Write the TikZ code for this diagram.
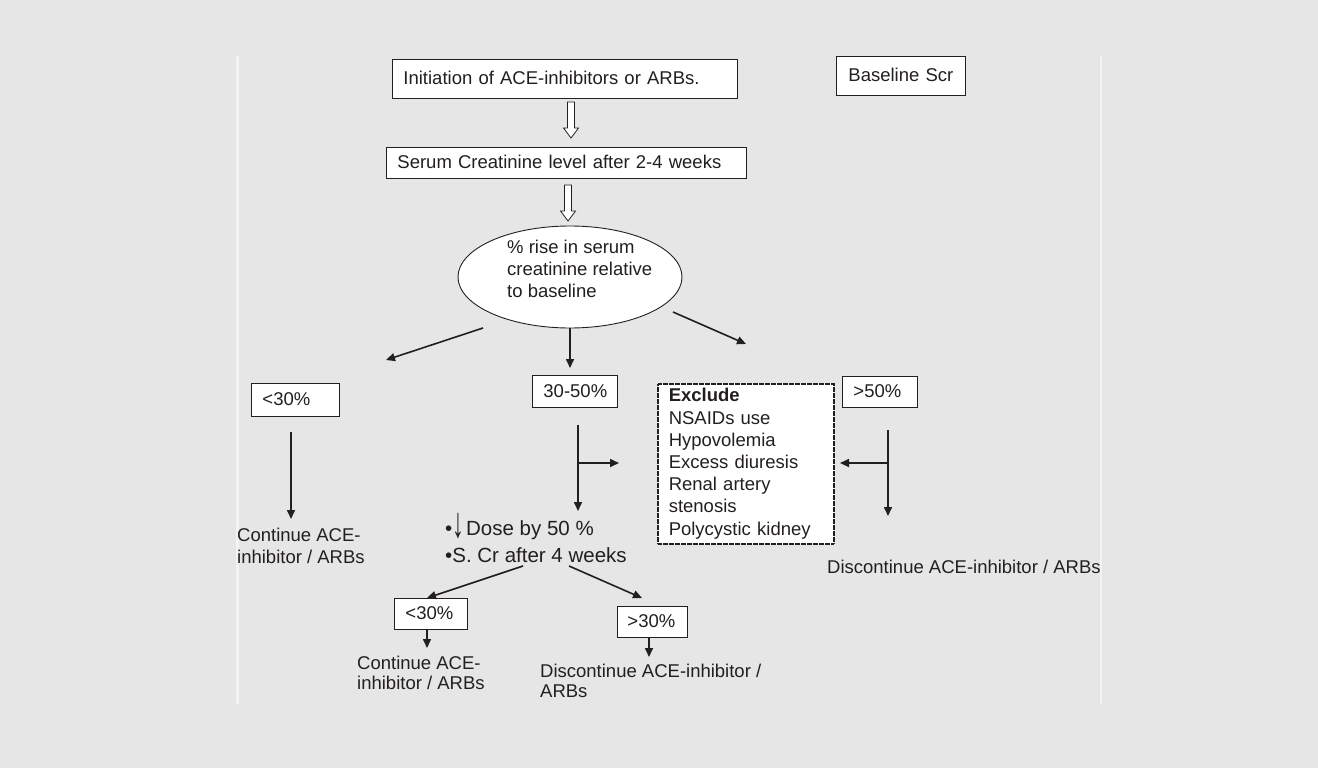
\documentclass[tikz,border=0pt]{standalone}
\usepackage{graphicx}
\usepackage{fontspec}
\setmainfont{Liberation Sans}
\usetikzlibrary{shapes.geometric, arrows.meta, calc}

\definecolor{bg}{HTML}{E6E6E6}
\definecolor{railcol}{HTML}{F3F3F3}
\definecolor{ink}{HTML}{231F20}

% left-aligned stack of lines whose baseline is the first line
\newcommand{\stacked}[1]{\begin{tabular}[t]{@{}l@{}}#1\end{tabular}}

\begin{document}
\begin{tikzpicture}[x=1pt, y=-1pt,
  font=\fontsize{18.5}{22.2}\selectfont,
  every node/.style={text=ink},
  plainbox/.style={draw=ink, line width=0.9pt, fill=white, anchor=north west,
    inner xsep=11pt, inner ysep=0pt, align=left},
  box/.style={plainbox, text height=14pt, text depth=2pt},
  dotbox/.style={plainbox, dash pattern=on 0.7pt off 0.5pt, line width=1.5pt},
  freetext/.style={anchor=base west, inner sep=0pt},
  conn/.style={draw=ink, line width=1.6pt, -{Triangle[length=9pt,width=8pt]}},
  hollow/.style={draw=ink, fill=white, line width=0.8pt, line join=miter},
  rail/.style={draw=railcol, line width=2.5pt}
]
\useasboundingbox (0,0) rectangle (1318,768);
\fill[bg] (0,0) rectangle (1318,768);
\draw[rail] (237.5,56) -- (237.5,704);
\draw[rail] (1101,56) -- (1101,704);

% ---- boxes and texts ----
\node[box, text width=323pt, minimum height=39pt] (init) at (392,59)
  {Initiation of ACE-inhibitors or ARBs.};
\node[box, text width=105pt, inner xsep=12pt, minimum height=39pt] (base) at (836,56)
  {Baseline Scr};
\node[box, text width=338pt, minimum height=31pt] (serum) at (386,147)
  {Serum Creatinine level after 2-4 weeks};
\node[ellipse, draw=ink, line width=0.9pt, fill=white, minimum width=224pt,
  minimum height=102pt, inner sep=0pt] (rise) at (570,277) {};
\node[freetext] (risetext) at (507,253)
  {\stacked{\% rise in serum\\creatinine relative\\to baseline}};

\node[box, text width=66pt, minimum height=33pt] (lt30) at (251,383) {\mbox{<30\%}};
\node[box, text width=63pt, minimum height=32pt] (mid) at (532,375) {\mbox{30-50\%}};
\node[box, text width=53pt, minimum height=31pt] (gt50) at (842,376) {\mbox{>50\%}};
\node[dotbox, text width=154pt, minimum height=160pt] (excl) at (657,383)
  {\textbf{Exclude}\\NSAIDs use\\Hypovolemia\\Excess diuresis\\Renal artery\\stenosis\\Polycystic kidney};

\node[freetext] (contA) at (237,541) {\stacked{Continue ACE-\\inhibitor / ARBs}};
\node[freetext] (discA) at (827,573) {Discontinue ACE-inhibitor / ARBs};
\node[freetext, font=\fontsize{20.5}{27}\selectfont] (dose) at (445,535)
  {\stacked{•\hspace{0.5pt}\raisebox{-2.5pt}{\scalebox{1.15}[2.1]{\textbf{↓}}}\hspace{1.5pt}Dose by 50 \%\\•S. Cr after 4 weeks}};

\node[box, text width=51pt, minimum height=31pt] (low) at (394,598) {\mbox{<30\%}};
\node[box, text width=50pt, inner xsep=10pt, minimum height=31pt] (high) at (617,606) {\mbox{>30\%}};
\node[freetext, font=\fontsize{18.5}{20}\selectfont] (contB) at (357,669)
  {\stacked{Continue ACE-\\inhibitor / ARBs}};
\node[freetext, font=\fontsize{18.5}{20}\selectfont] (discB) at (540,677)
  {\stacked{Discontinue ACE-inhibitor /\\ARBs}};

% ---- connector end points ----
\coordinate (h1a) at (571,102);  \coordinate (h1b) at (571,138);
\coordinate (h2a) at (568,185);  \coordinate (h2b) at (568,221);
\coordinate (rL0) at (483,328);  \coordinate (rL1) at (386,360);
\coordinate (rM1) at (570,368);
\coordinate (rR0) at (673,312);  \coordinate (rR1) at (746,344);
\coordinate (aL0) at (291,432);  \coordinate (aL1) at (291,519);
\coordinate (mV0) at (578,425);  \coordinate (mV1) at (578,511);
\coordinate (mB0) at (578,463);  \coordinate (mB1) at (619,463);
\coordinate (gV0) at (888,430);  \coordinate (gV1) at (888,516);
\coordinate (gB0) at (888,463);  \coordinate (gB1) at (840,463);
\coordinate (dL0) at (523,566);  \coordinate (dL1) at (427,598);
\coordinate (dR0) at (569,566);  \coordinate (dR1) at (642,598);
\coordinate (lowA) at (427,648);
\coordinate (highA) at (649,657);

% ---- hollow block arrows ----
\draw[hollow] ($(h1a)+(-3.5,0)$) -- ($(h1b)+(-3.5,-10)$) -- ($(h1b)+(-7.5,-10)$) -- (h1b)
  -- ($(h1b)+(7.5,-10)$) -- ($(h1b)+(3.5,-10)$) -- ($(h1a)+(3.5,0)$) -- cycle;
\draw[hollow] ($(h2a)+(-3.5,0)$) -- ($(h2b)+(-3.5,-10)$) -- ($(h2b)+(-7.5,-10)$) -- (h2b)
  -- ($(h2b)+(7.5,-10)$) -- ($(h2b)+(3.5,-10)$) -- ($(h2a)+(3.5,0)$) -- cycle;

% ---- arrows ----
\draw[conn] (rL0) -- (rL1);
\draw[conn] (rise.south) -- (rM1);
\draw[conn] (rR0) -- (rR1);
\draw[conn] (aL0) -- (aL1);
\draw[conn] (mV0) -- (mV1);
\draw[conn] (mB0) -- (mB1);
\draw[conn] (gV0) -- (gV1);
\draw[conn] (gB0) -- (gB1);
\draw[conn] (dL0) -- (dL1);
\draw[conn] (dR0) -- (dR1);
\draw[conn] (low.south -| lowA) -- (lowA);
\draw[conn] (high.south -| highA) -- (highA);
\end{tikzpicture}
\end{document}
